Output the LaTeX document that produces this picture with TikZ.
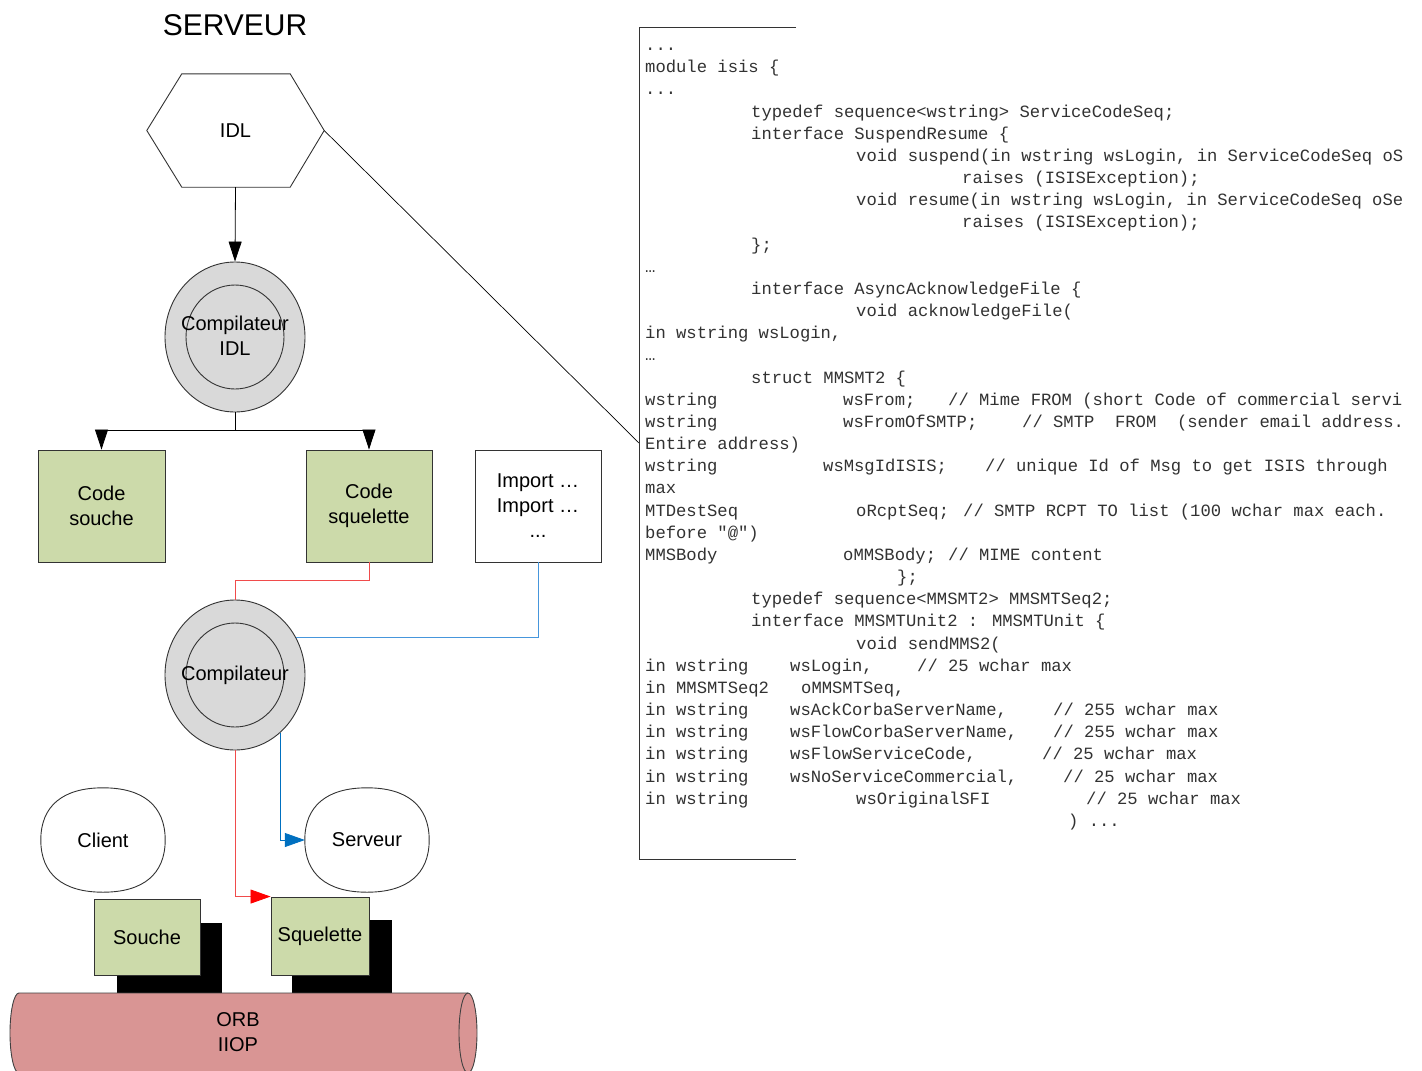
\documentclass[tikz,border=0pt]{standalone}
\usepackage{fontspec}
\setmainfont{Liberation Sans}
\newfontfamily\codefont{Liberation Mono}
\usetikzlibrary{shapes.geometric,arrows.meta,calc}
\definecolor{boxgreen}{RGB}{204,218,170}
\definecolor{compgray}{RGB}{217,217,217}
\definecolor{orbfill}{RGB}{217,149,148}
\definecolor{codegray}{RGB}{50,50,50}
\definecolor{redline}{RGB}{240,75,75}
\definecolor{blueline}{RGB}{70,150,220}
\definecolor{bluetip}{RGB}{0,112,192}
\newcounter{cln}
\newcommand\codeseg[3]{\stepcounter{cln}\node[codetxt] (cs\arabic{cln}) at (#1,{50.5+22.17*(#2-1)}) {#3};}
\newcommand\squircle[1]{\draw[shapeline]
  (#1.east) .. controls ($(#1.east)!0.65!(#1.north east)$) and ($(#1.north)!0.65!(#1.north east)$) .. (#1.north)
  .. controls ($(#1.north)!0.65!(#1.north west)$) and ($(#1.west)!0.65!(#1.north west)$) .. (#1.west)
  .. controls ($(#1.west)!0.65!(#1.south west)$) and ($(#1.south)!0.65!(#1.south west)$) .. (#1.south)
  .. controls ($(#1.south)!0.65!(#1.south east)$) and ($(#1.east)!0.65!(#1.south east)$) .. (#1.east) -- cycle;}
\begin{document}
\begin{tikzpicture}[x=1pt,y=-1pt,
  lbl/.style={font=\fontsize{20}{25}\selectfont, align=center, text=black},
  shapeline/.style={draw=black!80, line width=0.9pt},
  greenbox/.style={shapeline, fill=boxgreen, lbl, inner sep=0pt},
  compouter/.style={ellipse, shapeline, fill=compgray, minimum width=140pt, minimum height=150pt, inner sep=0pt},
  compinner/.style={ellipse, shapeline, minimum width=98pt, minimum height=104pt, inner sep=0pt},
  roundbox/.style={inner sep=0pt, minimum width=124pt, minimum height=104pt, lbl},
  shadowbox/.style={fill=black, inner sep=0pt},
  conn/.style={draw=black, line width=0.8pt},
  blktip/.style={-{Triangle[length=20pt,width=13pt]}},
  redconn/.style={draw=redline, line width=0.8pt},
  blueconn/.style={draw=blueline, line width=0.8pt},
  codetxt/.style={font=\codefont\fontsize{17.2}{20}\selectfont, text=codegray, anchor=base west, inner sep=0pt},
]
\useasboundingbox (0,0) rectangle (1422,1071);
\fill[white] (0,0) rectangle (1422,1071);

% title
\node[font=\fontsize{30}{36}\selectfont] (title) at (235,25) {SERVEUR};

% IDL hexagon
\node[inner sep=0pt, minimum width=177pt, minimum height=113pt, lbl] (idl) at (235.5,130.5) {};
\draw[shapeline, fill=white] (idl.west) -- ([xshift=35pt]idl.north west) -- ([xshift=-34pt]idl.north east) -- (idl.east) -- ([xshift=-34pt]idl.south east) -- ([xshift=35pt]idl.south west) -- cycle;
\node[lbl] (idltxt) at (idl.center) {IDL};

% Compilateur IDL
\node[compouter] (comp1) at (235,337) {};
\node[compinner] (comp1in) at (235,337) {};
\node[lbl] (comp1txt) at (235,336) {Compilateur\\IDL};

% code boxes
\node[greenbox, minimum width=127pt, minimum height=112pt] (codesouche) at (101.5,506) {Code\\souche};
\node[greenbox, minimum width=126pt, minimum height=112pt] (codesquel) at (369,506) {Code\\squelette};
\node[shapeline, fill=white, lbl, inner sep=0pt, minimum width=126pt, minimum height=112pt] (import) at (538,506) {Import …\\Import …\\...};

% Compilateur
\node[compouter] (comp2) at (235,675) {};
\node[compinner] (comp2in) at (235,675) {};
\node[lbl] (comp2txt) at (235,675) {Compilateur};

% Client / Serveur
\node[roundbox] (client) at (103,840) {Client};
\squircle{client}
\node[roundbox] (serveur) at (367,840) {Serveur};
\squircle{serveur}

% Souche / Squelette with shadows
\node[shadowbox, minimum width=105pt, minimum height=70pt] (soucheSh) at (169.5,958) {};
\node[greenbox, minimum width=106pt, minimum height=76pt] (souche) at (147,937) {Souche};
\node[shadowbox, minimum width=100pt, minimum height=73pt] (squelSh) at (342,956.5) {};
\node[greenbox, minimum width=98pt, minimum height=78pt] (squel) at (320,936) {Squelette};

% ORB cylinder
\filldraw[fill=orbfill, draw=black!75, line width=0.9pt]
  (19,993) -- (468,993)
  .. controls (473,993) and (477,1011) .. (477,1033)
  .. controls (477,1055) and (473,1073) .. (468,1073)
  -- (19,1073)
  .. controls (14,1073) and (10,1055) .. (10,1033)
  .. controls (10,1011) and (14,993) .. (19,993) -- cycle;
\draw[draw=black!75, line width=0.9pt] (468,993) .. controls (463,993) and (459,1011) .. (459,1033)
  .. controls (459,1055) and (463,1073) .. (468,1073);
\node[lbl] (orb) at (238,1032) {ORB\\IIOP};

% connectors
\draw[conn, blktip] (idl.south) -- (comp1.north);
\coordinate (split) at (235,430);
\draw[conn] (comp1.south) -- (split);
\draw[conn, blktip] (split) -| (codesouche.north);
\draw[conn, blktip] (split) -| (codesquel.north);
\draw[redconn] (codesquel.south) -- ++(0,18) -| (comp2.north);
\draw[blueconn] (import.south) |- (comp2.32.6);
\draw[draw=bluetip, line width=0.8pt, -{Triangle[length=20pt,width=14pt,color=bluetip]}] (comp2.-52) |- (serveur.west);
\draw[redconn, -{Triangle[length=20pt,width=14pt,color=red]}] (comp2.south) |- (squel.north west);

% code listing frame
\coordinate (codeleft) at (639,443);
\draw[conn, line width=0.7pt] (idl.east) -- (codeleft);
\draw[draw=black!80, line width=0.9pt] (796,27) -- (639,27) -- (639,859) -- (796,859);

% code listing
\begin{scope}
\clip (640,0) rectangle (1403,1071);
\codeseg{645}{1}{...}
\codeseg{645}{2}{module isis \{}
\codeseg{645}{3}{...}
\codeseg{751}{4}{typedef sequence<wstring> ServiceCodeSeq;}
\codeseg{751}{5}{interface SuspendResume \{}
\codeseg{856}{6}{void suspend(in wstring wsLogin, in ServiceCodeSeq oSe}
\codeseg{962}{7}{raises (ISISException);}
\codeseg{856}{8}{void resume(in wstring wsLogin, in ServiceCodeSeq oSer}
\codeseg{962}{9}{raises (ISISException);}
\codeseg{751}{10}{\};}
\codeseg{645}{11}{…}
\codeseg{751}{12}{interface AsyncAcknowledgeFile \{}
\codeseg{856}{13}{void acknowledgeFile(}
\codeseg{645}{14}{in wstring wsLogin,}
\codeseg{645}{15}{…}
\codeseg{751}{16}{struct MMSMT2 \{}
\codeseg{645}{17}{wstring}
\codeseg{843}{17}{wsFrom;}
\codeseg{948}{17}{// Mime FROM (short Code of commercial servi}
\codeseg{645}{18}{wstring}
\codeseg{843}{18}{wsFromOfSMTP;}
\codeseg{1022}{18}{// SMTP~~FROM~~(sender email address.}
\codeseg{645}{19}{Entire address)}
\codeseg{645}{20}{wstring}
\codeseg{823}{20}{wsMsgIdISIS;}
\codeseg{985}{20}{// unique Id of Msg to get ISIS through}
\codeseg{645}{21}{max}
\codeseg{645}{22}{MTDestSeq}
\codeseg{856}{22}{oRcptSeq;}
\codeseg{963}{22}{// SMTP RCPT TO list (100 wchar max each.}
\codeseg{645}{23}{before "@")}
\codeseg{645}{24}{MMSBody}
\codeseg{843}{24}{oMMSBody;}
\codeseg{948}{24}{// MIME content}
\codeseg{897}{25}{\};}
\codeseg{751}{26}{typedef sequence<MMSMT2> MMSMTSeq2;}
\codeseg{751}{27}{interface MMSMTUnit2 : MMSMTUnit \{}
\codeseg{856}{28}{void sendMMS2(}
\codeseg{645}{29}{in wstring}
\codeseg{790}{29}{wsLogin,}
\codeseg{917}{29}{// 25 wchar max}
\codeseg{645}{30}{in MMSMTSeq2}
\codeseg{801}{30}{oMMSMTSeq,}
\codeseg{645}{31}{in wstring}
\codeseg{790}{31}{wsAckCorbaServerName,}
\codeseg{1053}{31}{// 255 wchar max}
\codeseg{645}{32}{in wstring}
\codeseg{790}{32}{wsFlowCorbaServerName,}
\codeseg{1053}{32}{// 255 wchar max}
\codeseg{645}{33}{in wstring}
\codeseg{790}{33}{wsFlowServiceCode,}
\codeseg{1042}{33}{// 25 wchar max}
\codeseg{645}{34}{in wstring}
\codeseg{790}{34}{wsNoServiceCommercial,}
\codeseg{1063}{34}{// 25 wchar max}
\codeseg{645}{35}{in wstring}
\codeseg{856}{35}{wsOriginalSFI}
\codeseg{1086}{35}{// 25 wchar max}
\codeseg{1068}{36}{) ...}
\end{scope}
\end{tikzpicture}
\end{document}
